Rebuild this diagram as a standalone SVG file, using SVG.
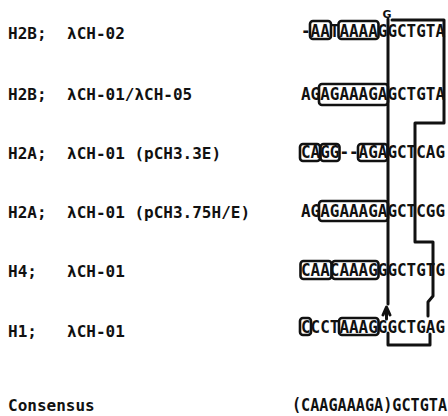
<svg xmlns="http://www.w3.org/2000/svg" width="448" height="416" viewBox="0 0 448 416">
<style>
.lbl{font-family:"DejaVu Sans Mono","Liberation Mono",monospace;font-weight:bold;font-size:16px;fill:#111}
.seq{font-family:"DejaVu Sans Mono","Liberation Mono",monospace;font-weight:bold;font-size:17px;fill:#111}
.box{fill:none;stroke:#111;stroke-width:2.6}
.ln{fill:none;stroke:#111;stroke-width:3;stroke-linejoin:round;stroke-linecap:round}
</style>
<rect width="448" height="416" fill="#fff"/>
<g id="labels">
<text class="lbl" x="8" y="39">H2B;</text><text class="lbl" x="67" y="39">λCH-02</text>
<text class="lbl" x="8" y="100">H2B;</text><text class="lbl" x="67" y="100">λCH-01/λCH-05</text>
<text class="lbl" x="8" y="159">H2A;</text><text class="lbl" x="67" y="159">λCH-01 (pCH3.3E)</text>
<text class="lbl" x="8" y="218">H2A;</text><text class="lbl" x="67" y="218">λCH-01 (pCH3.75H/E)</text>
<text class="lbl" x="8" y="277">H4;</text><text class="lbl" x="67" y="277">λCH-01</text>
<text class="lbl" x="8" y="337">H1;</text><text class="lbl" x="67" y="337">λCH-01</text>
<text class="lbl" x="8" y="411">Consensus</text>
</g>
<g id="seq1">
<rect class="box" x="310" y="21" width="21" height="18" rx="3"/>
<rect class="box" x="338.5" y="21" width="40" height="18" rx="3"/>
<text class="seq" x="301" y="37" textLength="144" lengthAdjust="spacingAndGlyphs">-AATAAAAGGCTGTA</text>
<text x="387" y="18" text-anchor="middle" style="font-family:'DejaVu Sans','Liberation Sans',sans-serif;font-weight:bold;font-size:11px;fill:#111">G</text>
</g>
<g id="seq2">
<rect class="box" x="319" y="84" width="69" height="21" rx="3"/>
<text class="seq" x="301" y="100" textLength="144" lengthAdjust="spacingAndGlyphs">AGAGAAAGAGCTGTA</text>
</g>
<g id="seq3">
<rect class="box" x="300" y="144" width="20" height="17" rx="3"/>
<rect class="box" x="320.5" y="144" width="19" height="17" rx="3"/>
<rect class="box" x="358" y="144" width="29.5" height="17" rx="3"/>
<text class="seq" x="301" y="158" textLength="144" lengthAdjust="spacingAndGlyphs">CAGG--AGAGCTCAG</text>
</g>
<g id="seq4">
<rect class="box" x="319" y="201" width="69" height="20" rx="3"/>
<text class="seq" x="301" y="217" textLength="144" lengthAdjust="spacingAndGlyphs">AGAGAAAGAGCTCGG</text>
</g>
<g id="seq5">
<rect class="box" x="300.5" y="261" width="31" height="18" rx="3"/>
<rect class="box" x="332" y="261" width="46.5" height="18" rx="3"/>
<text class="seq" x="301" y="276" textLength="144" lengthAdjust="spacingAndGlyphs">CAACAAAGGGCTGTG</text>
</g>
<g id="seq6">
<rect class="box" x="300" y="318" width="11" height="17" rx="3"/>
<rect class="box" x="339" y="318" width="39.5" height="17" rx="3"/>
<text class="seq" x="301" y="333" textLength="144" lengthAdjust="spacingAndGlyphs">CCCTAAAGGGCTGAG</text>
</g>
<g id="consensus">
<text class="seq" x="292" y="411" textLength="155" lengthAdjust="spacingAndGlyphs">(CAAGAAAGA)GCTGTA</text>
</g>
<g id="connectors">
<path class="ln" d="M388,19 L388,304"/>
<path class="ln" d="M392,20 L444,20 L444,123 L415,123 L415,242 L433,242 L433,296 L428,302 L428,316"/>
<path class="ln" d="M383,315 L386.5,307 L390,315 M386.5,308 L386.5,319" stroke-width="2.4"/>
<path class="ln" d="M388,333 L388,345 L430,345 L430,334"/>
</g>
</svg>
